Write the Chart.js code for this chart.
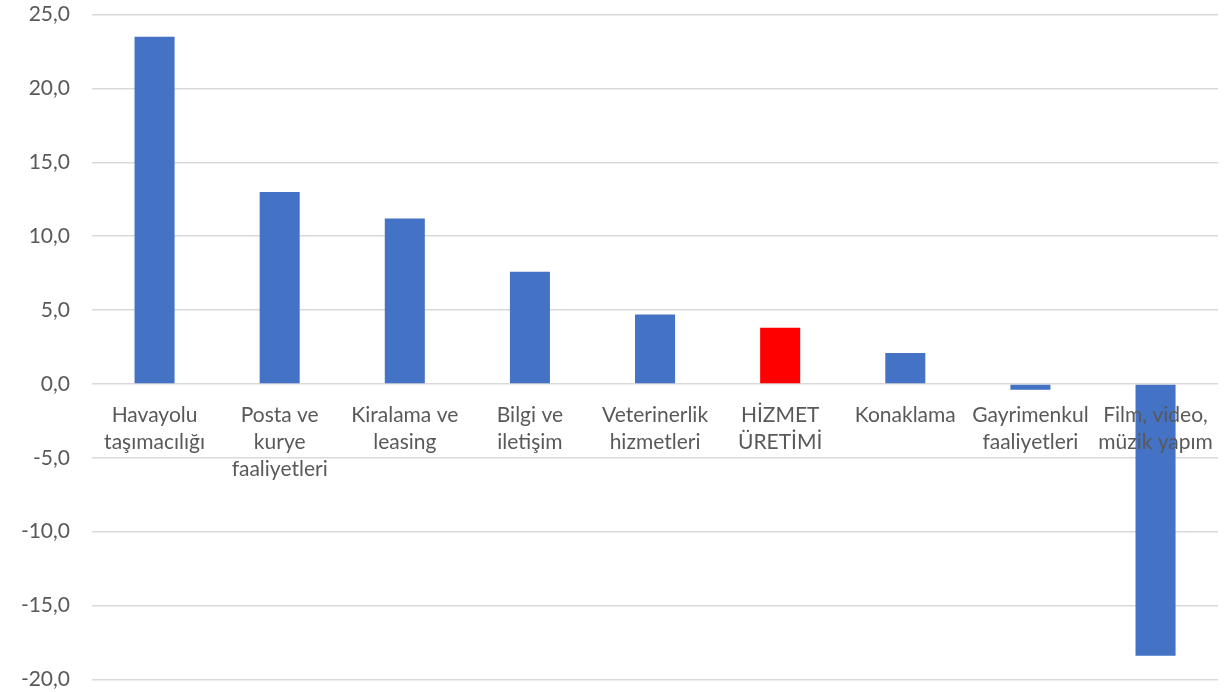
<!DOCTYPE html>
<html>
<head>
<meta charset="utf-8">
<script src="https://cdn.jsdelivr.net/npm/chart.js@4/dist/chart.umd.min.js"></script>
<style>
html,body{margin:0;padding:0;background:#fff;overflow:hidden;}
#wrap{width:1226px;height:692px;position:relative;overflow:hidden;}
#c{position:absolute;left:0;top:-20px;}
</style>
</head>
<body>
<div id="wrap"><canvas id="c" width="1231" height="734"></canvas></div>
<script>
const categories = [
  ["Havayolu","taşımacılığı"],
  ["Posta ve","kurye","faaliyetleri"],
  ["Kiralama ve","leasing"],
  ["Bilgi ve","iletişim"],
  ["Veterinerlik","hizmetleri"],
  ["HİZMET","ÜRETİMİ"],
  ["Konaklama"],
  ["Gayrimenkul","faaliyetleri"],
  ["Film, video,","müzik yapım"]
];
const values = [23.5, 13.0, 11.2, 7.6, 4.7, 3.8, 2.1, -0.4, -18.4];
const highlight = [false, false, false, false, false, true, false, false, false];
const yTicks = [-20, -15, -10, -5, 0, 5, 10, 15, 20, 25];

const BLUE = '#4472C4', RED = '#FF0000';
const FONT = 'Lato, "Liberation Sans", sans-serif';

new Chart(document.getElementById('c'), {
  type: 'bar',
  data: {
    labels: categories,
    datasets: [{
      data: values,
      backgroundColor: highlight.map(h => h ? RED : BLUE),
      borderWidth: 0,
      categoryPercentage: 1,
      barPercentage: 0.32
    }]
  },
  options: {
    responsive: false,
    animation: false,
    devicePixelRatio: 1,
    layout: { padding: { top: 0, bottom: 0, left: 0, right: 2 } },
    plugins: { legend: { display: false }, tooltip: { enabled: false } },
    scales: {
      x: {
        position: { y: 0 },
        grid: { display: false, drawTicks: false },
        border: { display: false },
        ticks: {
          z: 1,
          color: '#595959',
          font: { family: FONT, size: 21, lineHeight: 1.29 },
          padding: 18,
          maxRotation: 0,
          autoSkip: false
        }
      },
      y: {
        min: -20, max: 25,
        afterBuildTicks: s => { s.ticks = yTicks.map(v => ({ value: v })); },
        afterFit: s => { s.width = 92; },
        grid: { color: '#d9d9d9', lineWidth: 1.5, drawTicks: false },
        border: { display: false },
        ticks: {
          color: '#595959',
          font: { family: FONT, size: 21 },
          padding: 22,
          callback: v => v.toFixed(1).replace('.', ',')
        }
      }
    }
  }
});
</script>
</body>
</html>
